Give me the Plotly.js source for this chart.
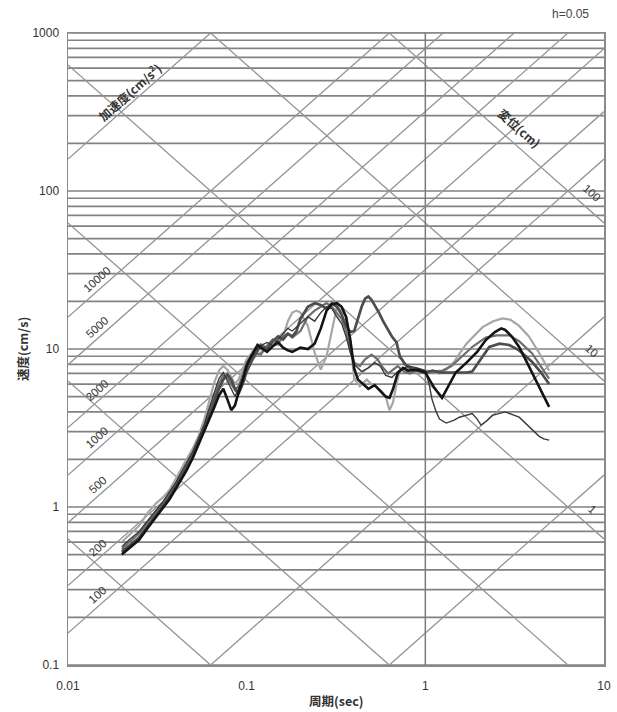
<!DOCTYPE html>
<html><head><meta charset="utf-8">
<script src="https://cdn.plot.ly/plotly-3.0.1.min.js"></script>
<style>html,body{margin:0;padding:0;background:#fff}#chart{width:617px;height:712px}</style>
</head><body><div id="chart"></div>
<script>
// ---- data (period T [s], pseudo velocity Sv [cm/s]) ----
const T_A = [0.02,0.022,0.025,0.028,0.031,0.034,0.037,0.04,0.043,0.046,0.05,0.054,0.058,0.062,0.066,0.07,0.074,0.078,0.082,0.086,0.09,0.095,0.1,
 0.105,0.11,0.12,0.13,0.14,0.15,0.16,0.17,0.18,0.19,0.2,0.22,0.24,0.26,0.28,0.3,0.32,0.34,0.36,0.38,0.4,0.43,0.47,0.5,0.53,0.57,0.6,0.63,0.66,0.69,0.72,0.8,0.9,1.0,
 1.1,1.2,1.31,1.45,1.55,1.7,1.83,2.1,2.4,2.7,3.0,3.35,3.8,4.3,4.93];
const SV_A = [0.60,0.66,0.76,0.92,1.05,1.15,1.28,1.50,1.75,2.00,2.35,2.85,3.60,4.80,6.20,7.30,7.80,7.40,6.60,6.00,6.40,7.40,8.60,
 9.2,10.0,10.8,10.2,11.0,10.6,12.0,15.0,17.0,17.5,17.0,14.0,9.5,7.4,9.0,13.0,18.5,17.5,16.0,11.0,6.5,5.8,6.4,6.0,5.8,5.4,5.0,4.1,4.6,6.0,7.4,7.6,7.4,7.3,
 7.2,7.0,7.4,8.3,9.3,10.8,11.8,13.8,15.0,15.6,15.3,14.0,12.0,9.6,7.3];

const T_B = [0.02,0.022,0.025,0.028,0.031,0.034,0.037,0.04,0.043,0.046,0.05,0.054,0.058,0.062,0.066,0.07,0.074,0.078,0.082,0.086,0.09,0.095,0.1,
 0.105,0.11,0.115,0.12,0.13,0.14,0.15,0.16,0.17,0.18,0.2,0.22,0.24,0.26,0.28,0.3,0.32,0.34,0.36,0.38,0.4,0.42,0.45,0.48,0.52,0.56,0.6,0.63,0.66,0.7,0.75,0.8,0.9,1.0,
 1.05,1.12,1.24,1.35,1.48,1.7,1.95,2.18,2.45,2.66,2.8,3.05,3.35,3.65,3.95,4.4,4.93];
const SV_B = [0.50,0.55,0.62,0.74,0.86,0.98,1.12,1.30,1.50,1.70,2.05,2.50,3.00,3.60,4.30,5.10,5.60,4.80,4.10,4.40,5.30,6.30,7.80,
 8.8,9.8,10.6,10.2,9.6,10.4,11.0,10.2,9.8,9.6,10.2,10.0,10.8,13.5,17.5,19.2,19.5,18.5,16.0,11.5,7.5,6.4,6.0,5.6,5.9,5.4,5.0,4.9,5.6,7.0,7.6,7.3,7.4,7.1,
 6.5,5.7,4.9,5.8,7.1,8.2,9.6,11.4,12.8,13.5,13.2,12.0,10.3,8.5,7.1,5.6,4.3];

const T_C = [0.02,0.022,0.025,0.028,0.031,0.034,0.037,0.04,0.043,0.046,0.05,0.054,0.058,0.062,0.066,0.07,0.074,0.078,0.082,0.086,0.09,0.095,0.1,
 0.105,0.11,0.12,0.13,0.14,0.15,0.16,0.17,0.18,0.2,0.22,0.24,0.26,0.28,0.3,0.32,0.34,0.36,0.38,0.4,0.43,0.46,0.5,0.54,0.58,0.62,0.66,0.7,0.76,0.82,0.9,1.0,
 1.1,1.25,1.4,1.6,1.85,2.18,2.5,2.95,3.35,3.95,4.4,4.93];
const SV_C = [0.54,0.60,0.68,0.80,0.92,1.05,1.20,1.38,1.60,1.85,2.20,2.70,3.30,4.10,5.00,6.00,6.80,6.60,6.00,5.50,5.80,6.80,8.20,
 8.8,9.5,9.2,10.5,11.5,11.0,12.0,12.5,11.8,13.0,16.0,17.5,18.5,19.5,18.5,17.0,15.5,13.0,10.0,8.2,7.8,8.6,9.2,8.6,7.6,7.0,7.4,7.8,7.2,7.0,7.4,7.2,
 7.2,7.3,7.8,9.0,10.4,11.8,12.2,12.2,11.2,9.4,7.9,6.5];

const T_D = [0.02,0.022,0.025,0.028,0.031,0.034,0.037,0.04,0.043,0.046,0.05,0.054,0.058,0.062,0.066,0.07,0.074,0.078,0.082,0.086,0.09,0.095,0.1,
 0.105,0.11,0.12,0.13,0.14,0.15,0.16,0.17,0.18,0.19,0.2,0.22,0.24,0.26,0.28,0.3,0.32,0.34,0.36,0.38,0.4,0.42,0.44,0.46,0.48,0.5,0.52,0.55,0.58,0.61,0.65,0.69,0.72,0.77,0.82,0.9,1.0,
 1.1,1.2,1.31,1.5,1.7,1.83,2.0,2.28,2.6,2.95,3.35,3.95,4.4,4.93];
const SV_D = [0.52,0.57,0.64,0.76,0.89,1.01,1.15,1.34,1.55,1.78,2.10,2.60,3.15,3.85,4.70,5.60,6.40,6.90,6.40,5.60,5.20,6.00,7.20,
 8.0,9.0,10.5,10.0,11.2,12.0,11.5,12.5,12.0,13.0,15.5,18.5,19.5,19.0,18.0,19.5,18.5,16.5,14.0,12.8,13.0,15.5,18.5,20.8,21.5,20.5,19.0,17.0,15.0,13.5,12.0,11.0,9.0,8.0,7.6,7.3,7.1,
 7.3,7.1,7.1,7.1,7.1,7.2,8.3,10.3,10.8,10.6,9.8,8.3,7.2,6.0];

const T_E = [0.02,0.022,0.025,0.028,0.031,0.034,0.037,0.04,0.043,0.046,0.05,0.054,0.058,0.062,0.066,0.07,0.074,0.078,0.082,0.086,0.09,0.095,0.1,
 0.105,0.11,0.12,0.13,0.14,0.15,0.16,0.17,0.18,0.2,0.22,0.24,0.26,0.28,0.3,0.32,0.34,0.36,0.38,0.4,0.44,0.48,0.52,0.56,0.6,0.65,0.7,0.8,0.9,1.0,
 1.05,1.09,1.15,1.2,1.31,1.45,1.55,1.83,1.95,2.05,2.2,2.37,2.8,3.35,3.95,4.34,4.6,4.93];
const SV_E = [0.56,0.62,0.70,0.83,0.95,1.08,1.24,1.42,1.66,1.90,2.25,2.75,3.35,4.30,5.40,6.50,7.10,6.30,5.50,5.00,5.60,6.60,8.00,
 9.0,9.6,10.5,11.0,10.5,11.5,12.5,13.5,13.0,14.5,16.0,15.0,17.0,18.5,18.0,16.0,14.5,12.0,9.5,8.0,7.2,7.6,8.2,7.8,6.8,6.6,7.2,7.8,7.6,7.3,
 6.0,4.8,4.0,3.6,3.4,3.55,3.7,3.9,3.6,3.3,3.5,3.8,4.0,3.7,3.1,2.8,2.7,2.65];

// tripartite reference lines
const ACC_LINES = [1, 10, 100, 200, 500, 1000, 2000, 5000, 10000, 100000]; // cm/s^2
const DISP_LINES = [0.001, 0.01, 0.1, 1, 10, 100];                          // cm
const ACC_LABELS = ['100', '200', '500', '1000', '2000', '5000', '10000'];
const ACC_LABEL_VALUES = [100, 200, 500, 1000, 2000, 5000, 10000];
const DISP_LABELS = ['1', '10', '100'];
const DISP_LABEL_VALUES = [1, 10, 100];
const X_TICKS = [0.01, 0.1, 1, 10];
const X_TICK_TEXT = ['0.01', '0.1', '1', '10'];
const Y_TICKS = [0.1, 1, 10, 100, 1000];
const Y_TICK_TEXT = ['0.1', '1', '10', '100', '1000'];

// ---- drawing ----
const TWO_PI = 2 * Math.PI;
const T0 = 0.01, T1 = 10;
const traces = [];

// horizontal log grid (1..9 per decade)
const gx = [], gy = [];
for (let k = -1; k <= 2; k++) {
  for (let d = 1; d <= 9; d++) {
    const v = d * Math.pow(10, k);
    gx.push(T0, T1, null); gy.push(v, v, null);
  }
}
gx.push(T0, T1, null); gy.push(1000, 1000, null);
traces.push({x: gx, y: gy, mode: 'lines', line: {color: '#828282', width: 1.7}, hoverinfo: 'skip'});

// acceleration lines (Sv = Sa*T/2pi)
const ax = [], ay = [];
ACC_LINES.forEach(a => { ax.push(T0, T1, null); ay.push(a * T0 / TWO_PI, a * T1 / TWO_PI, null); });
traces.push({x: ax, y: ay, mode: 'lines', line: {color: '#939393', width: 1.3}, hoverinfo: 'skip'});

// displacement lines (Sv = 2pi*Sd/T)
const dx = [], dy = [];
DISP_LINES.forEach(s => { dx.push(T0, T1, null); dy.push(TWO_PI * s / T0, TWO_PI * s / T1, null); });
traces.push({x: dx, y: dy, mode: 'lines', line: {color: '#939393', width: 1.3}, hoverinfo: 'skip'});

// vertical line at T = 1
traces.push({x: [1, 1], y: [0.1, 1000], mode: 'lines', line: {color: '#7a7a7a', width: 1.5}, hoverinfo: 'skip'});

// spectra
const series = [
  {x: T_A, y: SV_A, c: '#a6a6a6', w: 2.2},
  {x: T_C, y: SV_C, c: '#6e6e6e', w: 2.2},
  {x: T_D, y: SV_D, c: '#4d4d4d', w: 2.7},
  {x: T_E, y: SV_E, c: '#3a3a3a', w: 1.4},
  {x: T_B, y: SV_B, c: '#141414', w: 2.6}
];
series.forEach(s => traces.push({x: s.x, y: s.y, mode: 'lines', line: {color: s.c, width: s.w}, hoverinfo: 'skip'}));

const ANG = Math.atan((632 / 4) / (536 / 3)) * 180 / Math.PI;
const numFont = {family: 'Liberation Sans, Arial, sans-serif', size: 11.5, color: '#383838'};
const cjkFont = {family: 'Noto Sans CJK JP, sans-serif', size: 12, color: '#333', weight: 'bold'};
const annotations = [];
const LT = 0.0148;
ACC_LABEL_VALUES.forEach((a, i) => {
  annotations.push({x: Math.log10(LT), y: Math.log10(a * LT / TWO_PI), xref: 'x', yref: 'y', text: ACC_LABELS[i],
    showarrow: false, textangle: -ANG, yshift: 11, xshift: -1, xanchor: 'center', yanchor: 'middle', font: numFont});
});
annotations.push({x: Math.log10(0.0222), y: Math.log10(100000 * 0.0222 / TWO_PI), xref: 'x', yref: 'y', text: '加速度(cm/s<sup>2</sup>)',
  showarrow: false, textangle: -ANG, yshift: 13, xanchor: 'center', yanchor: 'middle', font: cjkFont});
const RT = 8.55;
DISP_LABEL_VALUES.forEach((s, i) => {
  annotations.push({x: Math.log10(RT), y: Math.log10(TWO_PI * s / RT), xref: 'x', yref: 'y', text: DISP_LABELS[i],
    showarrow: false, textangle: ANG, yshift: 19, xanchor: 'center', yanchor: 'middle', font: numFont});
});
annotations.push({x: Math.log10(3.35), y: Math.log10(TWO_PI * 100 / 3.35), xref: 'x', yref: 'y', text: '変位(cm)',
  showarrow: false, textangle: ANG, yshift: 20, xanchor: 'center', yanchor: 'middle', font: cjkFont});
annotations.push({x: -0.0858, y: 0.5, xref: 'paper', yref: 'paper', text: '速度(cm/s)', showarrow: false, textangle: -90,
  xanchor: 'center', yanchor: 'middle',
  font: {family: 'Noto Sans CJK JP, sans-serif', size: 12.5, color: '#333', weight: 'bold'}});
annotations.push({x: 0.5, y: -0.0554, xref: 'paper', yref: 'paper', text: '周期(sec)', showarrow: false,
  xanchor: 'center', yanchor: 'middle',
  font: {family: 'Noto Sans CJK JP, sans-serif', size: 12.5, color: '#333', weight: 'bold'}});
annotations.push({x: 0.9366, y: 1.030, xref: 'paper', yref: 'paper', text: 'h=0.05', showarrow: false,
  xanchor: 'center', yanchor: 'middle',
  font: {family: 'Liberation Sans, Arial, sans-serif', size: 12, color: '#444'}});

const layout = {
  width: 617, height: 712,
  margin: {l: 68, r: 13, t: 33, b: 47, pad: 0},
  paper_bgcolor: '#fff', plot_bgcolor: '#fff',
  showlegend: false, hovermode: false,
  xaxis: {type: 'log', range: [-2, 1], tickvals: X_TICKS, ticktext: X_TICK_TEXT, showgrid: false, zeroline: false,
    showline: true, mirror: true, linecolor: '#8a8a8a', linewidth: 1.5, ticks: 'outside', ticklen: 9, tickcolor: 'rgba(0,0,0,0)',
    tickfont: {family: 'Liberation Sans, Arial, sans-serif', size: 12, color: '#333'}},
  yaxis: {type: 'log', range: [-1, 3], tickvals: Y_TICKS, ticktext: Y_TICK_TEXT, showgrid: false, zeroline: false,
    showline: true, mirror: true, linecolor: '#8a8a8a', linewidth: 1.5, ticks: 'outside', ticklen: 5, tickcolor: 'rgba(0,0,0,0)',
    tickfont: {family: 'Liberation Sans, Arial, sans-serif', size: 12, color: '#333'}},
  annotations: annotations
};
Plotly.newPlot('chart', traces, layout, {staticPlot: true, displayModeBar: false});
</script></body></html>
